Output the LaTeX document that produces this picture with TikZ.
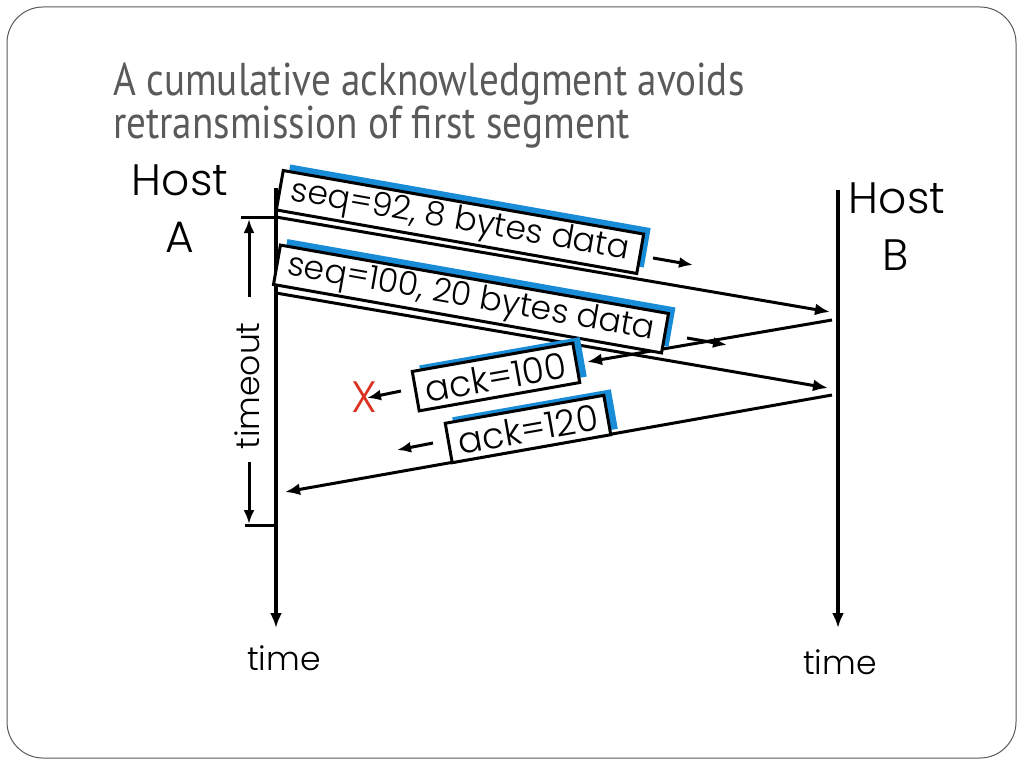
\documentclass[tikz,border=0pt]{standalone}
\usepackage{fontspec}
\setmainfont{Poppins}[UprightFont=* Light]
\newfontfamily\titlefont{PT Sans}[FakeStretch=0.85]
\usetikzlibrary{arrows.meta,shadows}
\definecolor{titlegray}{RGB}{90,90,90}
\definecolor{shadowblue}{RGB}{25,140,215}
\definecolor{lostred}{RGB}{220,50,35}

\begin{document}
\begin{tikzpicture}[x=1pt,y=-1pt,
		msg/.style={line width=3pt,-{Latex[length=15pt,width=12pt]}},
		hint/.style={line width=3pt,-{Latex[length=14pt,width=11pt]}},
		segbox/.style={draw,line width=3pt,fill=white,inner sep=0pt,minimum height=40pt,
			general shadow={fill=shadowblue,shadow xshift=7pt,shadow yshift=6pt}},
		hosttext/.style={font=\fontsize{44}{50}\selectfont,anchor=base},
		timetext/.style={font=\fontsize{33}{40}\selectfont,anchor=base}]
			\useasboundingbox (0,0) rectangle (1024,768);
			\draw [black!65, line width=1pt, rounded corners=36pt] (7,7) rectangle (1016,758);
			
			\node [anchor=base west, font=\titlefont\fontsize{46}{50}\selectfont, text=titlegray, inner sep=0pt] (title1) at (113,95) {A cumulative acknowledgment avoids};
			\node [anchor=base west, font=\titlefont\fontsize{46}{50}\selectfont, text=titlegray, inner sep=0pt] (title2) at (113,138) {retransmission of first segment};
			
			% hosts and their time lines
			\node [hosttext] (hostA) at (180,195) {Host}; \node [hosttext] (nameA) at (180,252) {A};
			\node [hosttext] (hostB) at (897,213) {Host}; \node [hosttext] (nameB) at (896,270) {B};
			\node [timetext] (timeA) at (284,670) {time};
			\node [timetext] (timeB) at (840,674) {time};
			\coordinate (topA) at (276,188); \coordinate (endA) at (276,628);
			\coordinate (topB) at (838,190); \coordinate (endB) at (838,628);
			\draw [msg, line width=3.2pt] (topA) -- (endA);
			\draw [msg, line width=3.2pt] (topB) -- (endB);
			
			% timeout
			\coordinate (toTop) at (241,217); \coordinate (toBot) at (245,525); \coordinate (a5) at (276,525);
			\draw [line width=3pt] (toTop) -- (276,217);
			\draw [line width=3pt] (toBot) -- (a5);
			\node [timetext, anchor=center, rotate=90] (timeout) at (247,386) {timeout};
			\coordinate (upTip) at (249,219); \coordinate (upEnd) at (249,297);
			\coordinate (dnTip) at (249,524); \coordinate (dnEnd) at (249,462);
			\draw [hint] (upEnd) -- (upTip);
			\draw [hint] (dnEnd) -- (dnTip);
			
			% segments A -> B and acks B -> A
			\coordinate (a1) at (276,217); \coordinate (b1) at (830,312);
			\coordinate (a2) at (276,293); \coordinate (b2) at (828,388);
			\coordinate (b3) at (832,320); \coordinate (x3) at (587,362);
			\coordinate (b4) at (832,395); \coordinate (a4) at (285,492);
			\draw [msg] (a1) -- (b1);
			\draw [msg] (a2) -- (b2);
			\draw [msg] (b3) -- (x3);
			\draw [msg] (b4) -- (a4);
			
			\node [segbox, rotate=-10, minimum width=366pt, font=\fontsize{33}{40}\selectfont] (seq1) at (460,222) {seq=92, 8 bytes data};
			\node [segbox, rotate=-10, minimum width=394pt, font=\fontsize{33}{40}\selectfont] (seq2) at (471,299) {seq=100, 20 bytes data};
			\node [segbox, rotate=10, minimum width=163pt, font=\fontsize{36}{40}\selectfont] (ack1) at (496,377) {ack=100};
			\node [segbox, rotate=10, minimum width=161pt, font=\fontsize{36}{40}\selectfont] (ack2) at (528,429) {ack=120};
			
			% direction hints
			\coordinate (h1s) at (653,258); \coordinate (h1e) at (693,265);
			\coordinate (h2s) at (687,338); \coordinate (h2e) at (727,345);
			\coordinate (h3s) at (401,391); \coordinate (h3e) at (367,398);
			\coordinate (h4s) at (433,443); \coordinate (h4e) at (397,450);
			\draw [hint] (h1s) -- (h1e);
			\draw [hint] (h2s) -- (h2e);
			\draw [hint] (h3s) -- (h3e);
			\draw [hint] (h4s) -- (h4e);
			\node [text=lostred, font=\fontsize{44}{50}\selectfont, inner sep=0pt] (lost) at (364,397) {X};
\end{tikzpicture}
\end{document}
